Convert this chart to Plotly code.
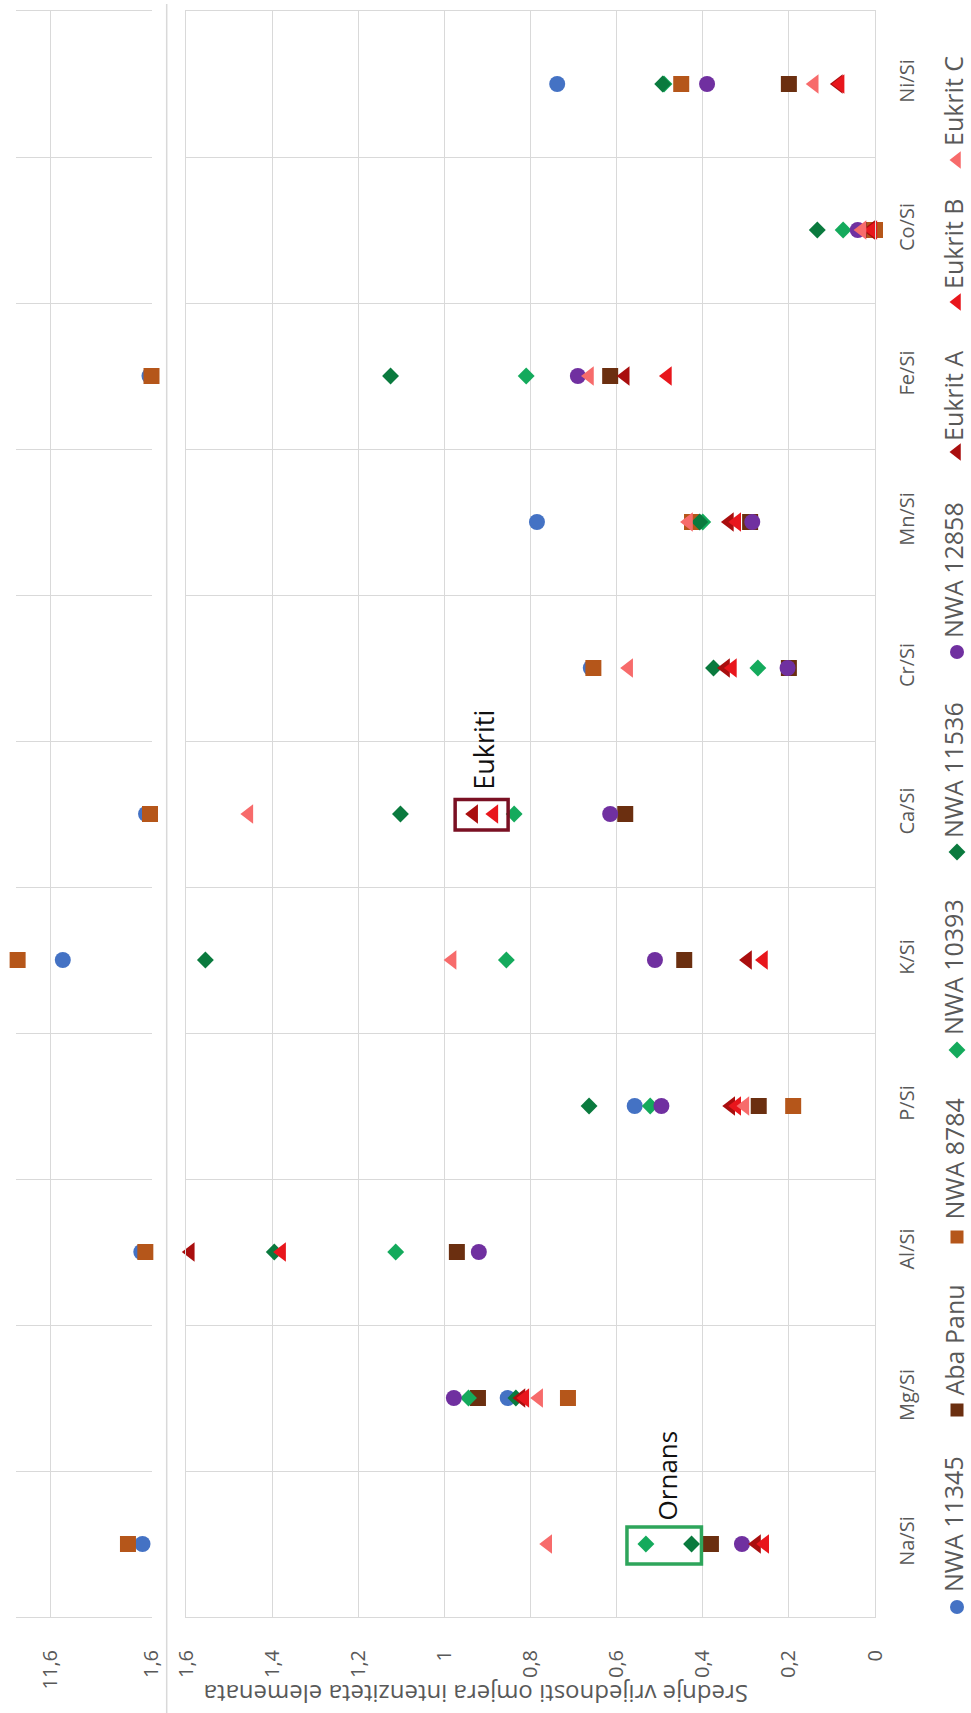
import plotly.graph_objects as go

# ---------------- data ----------------
categories = ["Na/Si", "Mg/Si", "Al/Si", "P/Si", "K/Si", "Ca/Si", "Cr/Si", "Mn/Si", "Fe/Si", "Co/Si", "Ni/Si"]

series_names = ["NWA 11345", "Aba Panu", "NWA 8784", "NWA 10393", "NWA 11536",
                "NWA 12858", "Eukrit A", "Eukrit B", "Eukrit C"]

nwa_11345 = [2.51, 0.853, 2.63, 0.558, 10.4, 2.16, 0.66, 0.785, 1.82, 0.005, 0.738]
aba_panu  = [0.381, 0.922, 0.971, 0.27, 0.443, 0.58, 0.20, 0.29, 0.615, 0.005, 0.20]
nwa_8784  = [3.95, 0.713, 2.23, 0.19, 14.87, 1.77, 0.654, 0.425, 1.62, 0.0, 0.45]
nwa_10393 = [0.532, 0.944, 1.113, 0.522, 0.856, 0.838, 0.272, 0.40, 0.81, 0.074, 0.49]
nwa_11536 = [0.426, 0.834, 1.395, 0.664, 1.555, 1.102, 0.375, 0.407, 1.125, 0.134, 0.493]
nwa_12858 = [0.309, 0.978, 0.92, 0.496, 0.511, 0.615, 0.203, 0.285, 0.69, 0.04, 0.39]
eukrit_a  = [0.275, 0.822, 1.59, 0.335, 0.296, 0.932, 0.347, 0.338, 0.58, 0.01, 0.085]
eukrit_b  = [0.256, 0.813, 1.378, 0.321, 0.259, 0.885, 0.331, 0.321, 0.482, 0.005, 0.081]
eukrit_c  = [0.76, 0.781, None, 0.302, 0.982, 1.454, 0.572, 0.433, 0.663, 0.03, 0.141]

series_values = [nwa_11345, aba_panu, nwa_8784, nwa_10393, nwa_11536,
                 nwa_12858, eukrit_a, eukrit_b, eukrit_c]

main_ticks = [0, 0.2, 0.4, 0.6, 0.8, 1.0, 1.2, 1.4, 1.6]
upper_ticks = [1.6, 11.6]
axis_title = "Srednje vrijednosti omjera intenziteta elemenata"

# ---------------- styles ----------------
colors = ["#4472C4", "#6B2F10", "#B5561A", "#14AA5C", "#0A7A3E",
          "#7030A0", "#A90E0E", "#E8161C", "#F76B6B"]
symbols = ["circle", "square", "square", "diamond", "diamond",
           "circle", "triangle-left", "triangle-left", "triangle-left"]
sizes = [16, 16, 16, 13, 13, 16, 17, 17, 17]

W, H = 971, 1713
FONT = "Open Sans"
GRID = "#D9D9D9"
TXT = "#595959"

def px(x):
    return x / W

def py(y):
    return 1 - y / H

BREAK = 1.6
UPPER_MAX = 15.08

def fmt(v):
    s = ("%g" % v)
    return s.replace(".", ",")

fig = go.Figure()

ypos = list(range(len(categories)))

for name, vals, col, sym, sz in zip(series_names, series_values, colors, symbols, sizes):
    main_x = [v if (v is not None and v <= BREAK) else None for v in vals]
    up_x = [v if (v is not None and v > BREAK) else None for v in vals]
    mk = dict(symbol=sym, size=sz, color=col, line=dict(width=0))
    fig.add_trace(go.Scatter(x=main_x, y=ypos, mode="markers", marker=mk, name=name,
                             xaxis="x", yaxis="y", cliponaxis=False, showlegend=False))
    fig.add_trace(go.Scatter(x=up_x, y=ypos, mode="markers", marker=mk, name=name,
                             xaxis="x2", yaxis="y2", cliponaxis=False, showlegend=False))

# legend built manually (rotated)
leg_marker_y = [1607, 1410, 1237, 1050, 852, 652, 452, 302, 160]
leg_text_y = [1594, 1398, 1222, 1037, 840, 640, 443, 291, 148]
leg_x = 957
leg_symbols = ["circle", "square", "square", "diamond", "diamond", "circle",
               "triangle-left", "triangle-left", "triangle-left"]
leg_sizes = [14, 13, 13, 13, 13, 14, 15, 15, 15]
for name, col, sym, sz, my in zip(series_names, colors, leg_symbols, leg_sizes, leg_marker_y):
    fig.add_trace(go.Scatter(x=[px(leg_x)], y=[py(my)], mode="markers",
                             marker=dict(symbol=sym, size=sz, color=col),
                             xaxis="x3", yaxis="y3", showlegend=False, hoverinfo="skip",
                             cliponaxis=False))

annotations = []
for name, ty in zip(series_names, leg_text_y):
    annotations.append(dict(x=px(953), y=py(ty), xref="paper", yref="paper",
                            text=name, showarrow=False, textangle=-90,
                            xanchor="center", yanchor="bottom",
                            font=dict(family=FONT, size=25, color=TXT)))

# axis title (upside down)
annotations.append(dict(x=px(476), y=py(1695), xref="paper", yref="paper",
                        text=axis_title, showarrow=False, textangle=180,
                        xanchor="center", yanchor="middle",
                        font=dict(family=FONT, size=24, color=TXT)))

# Ornans / Eukriti labels
annotations.append(dict(x=0.483, y=0.47, xref="x", yref="y", text="Ornans",
                        showarrow=False, textangle=-90, xanchor="center", yanchor="middle",
                        font=dict(family=FONT, size=26, color="#111111")))
annotations.append(dict(x=0.908, y=5.44, xref="x", yref="y", text="Eukriti",
                        showarrow=False, textangle=-90, xanchor="center", yanchor="middle",
                        font=dict(family=FONT, size=27, color="#111111")))

shapes = [
    dict(type="rect", xref="x", yref="y", x0=0.576, x1=0.403, y0=-0.137, y1=0.116,
         line=dict(color="#2EA55B", width=3.5), fillcolor="rgba(0,0,0,0)"),
    dict(type="rect", xref="x", yref="y", x0=0.975, x1=0.852, y0=5 - 0.11, y1=5 + 0.10,
         line=dict(color="#7A1023", width=3.5), fillcolor="rgba(0,0,0,0)"),
    # separator line between the two panels
    dict(type="line", xref="paper", yref="paper", x0=px(166.7), x1=px(166.7),
         y0=py(4), y1=0, line=dict(color=GRID, width=1.5)),
]

ydom = [py(1617), py(11)]
main_dom = [px(186), px(875)]
up_dom = [px(15.5), px(151.7)]

fig.update_layout(
    width=W, height=H, autosize=False,
    margin=dict(l=0, r=0, t=0, b=0, autoexpand=False),
    plot_bgcolor="rgba(0,0,0,0)", paper_bgcolor="white",
    showlegend=False,
    annotations=annotations, shapes=shapes,
    xaxis=dict(domain=main_dom, range=[BREAK, 0], anchor="y", automargin=False,
               tickvals=main_ticks, ticktext=[fmt(v) for v in main_ticks],
               tickangle=-90, showgrid=True, gridcolor=GRID, gridwidth=1,
               zeroline=False, showline=True, linecolor=GRID, linewidth=1, mirror=True,
               ticks="", ticklabelstandoff=24,
               tickfont=dict(family=FONT, size=20, color=TXT)),
    yaxis=dict(domain=ydom, range=[-0.5, len(categories) - 0.5], anchor="x", automargin=False,
               side="right", tickvals=ypos, ticktext=categories, tickangle=-90,
               showgrid=False, zeroline=False, showline=True, linecolor=GRID,
               linewidth=1, mirror=True, ticks="", ticklabelstandoff=14,
               minor=dict(tick0=0.5, dtick=1, showgrid=True, gridcolor=GRID, gridwidth=1),
               tickfont=dict(family=FONT, size=20, color=TXT)),
    xaxis2=dict(domain=up_dom, range=[UPPER_MAX, BREAK], anchor="y2", automargin=False,
                tickvals=upper_ticks, ticktext=[fmt(v) for v in upper_ticks],
                tickangle=-90, showgrid=True, gridcolor=GRID, gridwidth=1,
                zeroline=False, showline=True, linecolor=GRID, linewidth=1, mirror=True,
                ticks="", ticklabelstandoff=24,
                tickfont=dict(family=FONT, size=20, color=TXT)),
    yaxis2=dict(domain=ydom, range=[-0.5, len(categories) - 0.5], anchor="x2", automargin=False,
                showticklabels=False, showgrid=False, zeroline=False, showline=False,
                ticks="",
                minor=dict(tick0=0.5, dtick=1, showgrid=True, gridcolor=GRID, gridwidth=1)),
    xaxis3=dict(domain=[0, 1], range=[0, 1], anchor="y3", visible=False, fixedrange=True,
                automargin=False),
    yaxis3=dict(domain=[0, 1], range=[0, 1], anchor="x3", visible=False, fixedrange=True,
                automargin=False),
)

fig.write_html(
    "out.html",
    config={"displayModeBar": False, "responsive": False},
    post_script="document.body.style.margin='0px';document.body.style.padding='0px';"
                "document.documentElement.style.overflow='hidden';",
)
